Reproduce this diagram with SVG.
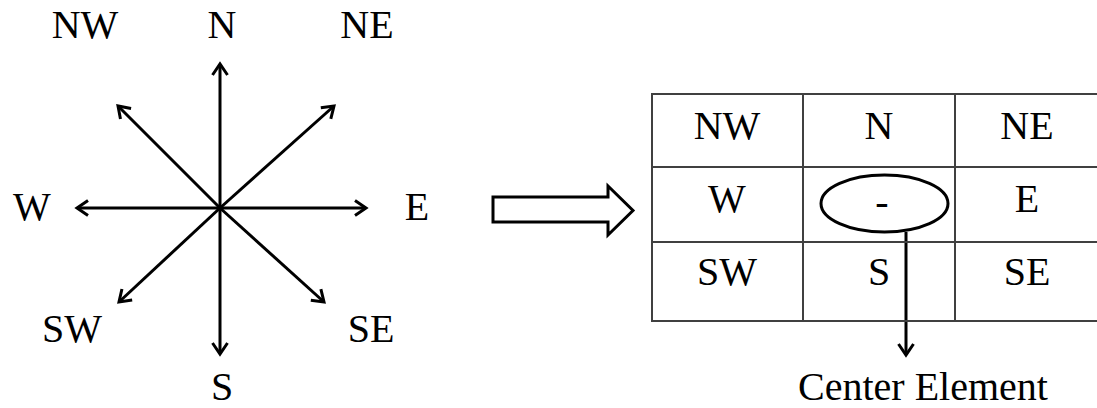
<svg xmlns="http://www.w3.org/2000/svg" width="1097" height="408" viewBox="0 0 1097 408">
<style>
  text { font-family: 'Liberation Serif', 'Times New Roman', serif; font-size: 40px; fill: #000; text-anchor: middle; }
  .arr { stroke: #000; stroke-width: 3; fill: none; }
  .grid { stroke: #404040; stroke-width: 2; fill: none; }
</style>
<defs>
  <marker id="head" markerUnits="userSpaceOnUse" viewBox="-16 -10 20 20" markerWidth="20" markerHeight="20" refX="0" refY="0" orient="auto" overflow="visible">
    <path d="M-11,-7.5 L0,0 L-11,7.5" fill="none" stroke="#000" stroke-width="3" stroke-linejoin="miter"/>
  </marker>
</defs>
<rect width="1097" height="408" fill="#fff"/>

<g id="compass-labels">
  <text x="85" y="38">NW</text>
  <text x="222" y="38">N</text>
  <text x="367" y="38">NE</text>
  <text x="32" y="220">W</text>
  <text x="417" y="220">E</text>
  <text x="72" y="342">SW</text>
  <text x="371" y="342">SE</text>
  <text x="222" y="400">S</text>
</g>

<g id="connectors">
  <line class="arr" x1="220" y1="208" x2="220" y2="64" marker-end="url(#head)"/>
  <line class="arr" x1="220" y1="208" x2="220" y2="354" marker-end="url(#head)"/>
  <line class="arr" x1="220" y1="208" x2="77" y2="208" marker-end="url(#head)"/>
  <line class="arr" x1="220" y1="208" x2="366" y2="208" marker-end="url(#head)"/>
  <line class="arr" x1="220" y1="208" x2="118" y2="106" marker-end="url(#head)"/>
  <line class="arr" x1="220" y1="208" x2="334" y2="106" marker-end="url(#head)"/>
  <line class="arr" x1="220" y1="208" x2="119" y2="302" marker-end="url(#head)"/>
  <line class="arr" x1="220" y1="208" x2="324" y2="302" marker-end="url(#head)"/>
  <line class="arr" x1="906" y1="232" x2="906" y2="355" marker-end="url(#head)"/>
</g>

<g id="block-arrow">
  <path d="M493,197 L608,197 L608,186 L633,210.5 L608,235 L608,222 L493,222 Z" fill="#fff" stroke="#000" stroke-width="3" stroke-linejoin="miter"/>
</g>

<g id="grid">
  <rect class="grid" x="652" y="94" width="460" height="227"/>
  <line class="grid" x1="803" y1="94" x2="803" y2="321"/>
  <line class="grid" x1="955" y1="94" x2="955" y2="321"/>
  <line class="grid" x1="652" y1="167" x2="1097" y2="167"/>
  <line class="grid" x1="652" y1="242" x2="1097" y2="242"/>
</g>

<g id="grid-labels">
  <text x="727" y="139">NW</text>
  <text x="879" y="139">N</text>
  <text x="1027" y="139">NE</text>
  <text x="727" y="212">W</text>
  <text x="1027" y="212">E</text>
  <text x="727" y="285">SW</text>
  <text x="879" y="285">S</text>
  <text x="1027" y="285">SE</text>
</g>

<g id="center-element">
  <ellipse cx="884.5" cy="203.5" rx="63.5" ry="28.5" fill="#fff" stroke="#000" stroke-width="3"/>
  <text x="882" y="215">-</text>
</g>

<g id="center-label">
  <text x="923" y="400">Center Element</text>
</g>
</svg>
